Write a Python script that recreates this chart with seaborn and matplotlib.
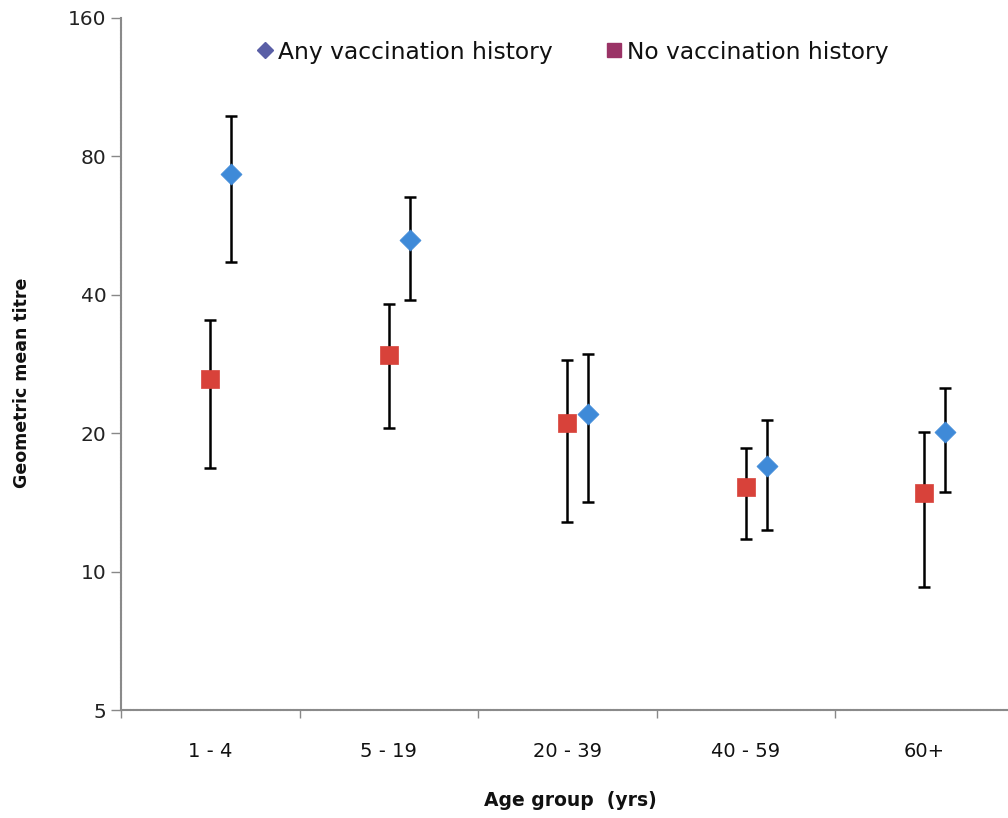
import numpy as np
import pandas as pd
import matplotlib
matplotlib.use("Agg")
import matplotlib.pyplot as plt
import seaborn as sns
from matplotlib.lines import Line2D
from matplotlib.ticker import FixedLocator, NullFormatter

# ---- data ----
age_groups = ["1 - 4", "5 - 19", "20 - 39", "40 - 59", "60+"]
any_gmt = [73.3, 52.6, 22.0, 17.0, 20.1]
any_low = [47.1, 39.0, 14.2, 12.3, 14.9]
any_high = [98.0, 65.2, 29.7, 21.4, 25.1]
no_gmt = [26.2, 29.6, 21.0, 15.3, 14.8]
no_low = [16.8, 20.5, 12.8, 11.8, 9.26]
no_high = [35.3, 38.2, 28.9, 18.6, 20.1]
y_ticks = [5, 10, 20, 40, 80, 160]
series_names = ["Any vaccination history", "No vaccination history"]

sns.set_theme(style="white")
plt.rcParams["font.family"] = ["DejaVu Sans"]

fig = plt.figure(figsize=(10.08, 8.18), dpi=100)
ax = fig.add_axes([121 / 1008, 108 / 818, (1008 - 121) / 1008, (710 - 18) / 818])

idx = np.arange(len(age_groups))
off_any = 0.118
df = pd.DataFrame({
    "pos": np.concatenate([idx + off_any, idx + 0.0]),
    "gmt": any_gmt + no_gmt,
    "low": any_low + no_low,
    "high": any_high + no_high,
    "group": [series_names[0]] * 5 + [series_names[1]] * 5,
})

# error bars
for name in series_names:
    d = df[df.group == name]
    ax.errorbar(d["pos"], d["gmt"],
                yerr=[d["gmt"] - d["low"], d["high"] - d["gmt"]],
                fmt="none", ecolor="black", elinewidth=1.8, capsize=4.6,
                capthick=1.8, zorder=2)

styles = {series_names[0]: ("D", "#3f8ad8", 115),
          series_names[1]: ("s", "#d8423a", 175)}
for name in series_names:
    mk, col, s = styles[name]
    d = df[df.group == name]
    sns.scatterplot(data=d, x="pos", y="gmt", marker=mk, s=s, color=col,
                    edgecolor=col, linewidth=0.5, ax=ax, legend=False, zorder=4)

ax.set_yscale("log", base=2)
ax.set_ylim(5, 160)
ax.set_xlim(-0.5, -0.5 + (1008 - 121) / 178.5)
ax.yaxis.set_major_locator(FixedLocator(y_ticks))
ax.set_yticklabels([str(t) for t in y_ticks])
ax.yaxis.set_minor_locator(FixedLocator([]))
ax.yaxis.set_minor_formatter(NullFormatter())

ax.set_xticks(idx)
ax.set_xticklabels(age_groups, fontsize=14)
ax.xaxis.set_minor_locator(FixedLocator(np.arange(-0.5, 5.0, 1.0)))
ax.tick_params(axis="x", which="major", length=0, pad=23, labelcolor="#111111")
ax.tick_params(axis="x", which="minor", length=6, width=1, color="#888888",
               direction="out", bottom=True)
ax.tick_params(axis="y", which="major", length=7, width=1, color="#888888",
               direction="out", left=True, labelsize=14.5, pad=3.5, labelcolor="#222222")

for s in ["top", "right"]:
    ax.spines[s].set_visible(False)
for s in ["left", "bottom"]:
    ax.spines[s].set_color("#8a8a8a")
    ax.spines[s].set_linewidth(1.5)
    ax.spines[s].set_linestyle((0, (1, 0.6)))

ax.set_xlabel("Age group  (yrs)", fontsize=13.5, fontweight="bold", color="#111111")
ax.xaxis.set_label_coords((570 - 121) / 887, -(791 - 710) / 692)
ax.set_ylabel("Geometric mean titre", fontsize=12.5, fontweight="bold", color="#111111")
ax.yaxis.set_label_coords(-(121 - 31) / 887, (710 - 383) / 692)

handles = [Line2D([], [], linestyle="none", marker="D", markersize=8.5,
                  color="#5a5fa6", markeredgecolor="#5a5fa6"),
           Line2D([], [], linestyle="none", marker="s", markersize=9.5,
                  color="#9a3366", markeredgecolor="#9a3366")]
ax.legend(handles, series_names, loc="center left", ncol=2, frameon=False,
          bbox_to_anchor=((232 - 121) / 887, (710 - 52) / 692),
          prop={"size": 16.8}, labelcolor="#111111",
          handletextpad=0.05, columnspacing=2.15, handlelength=1.0)

fig.savefig("out.png", dpi=100)
